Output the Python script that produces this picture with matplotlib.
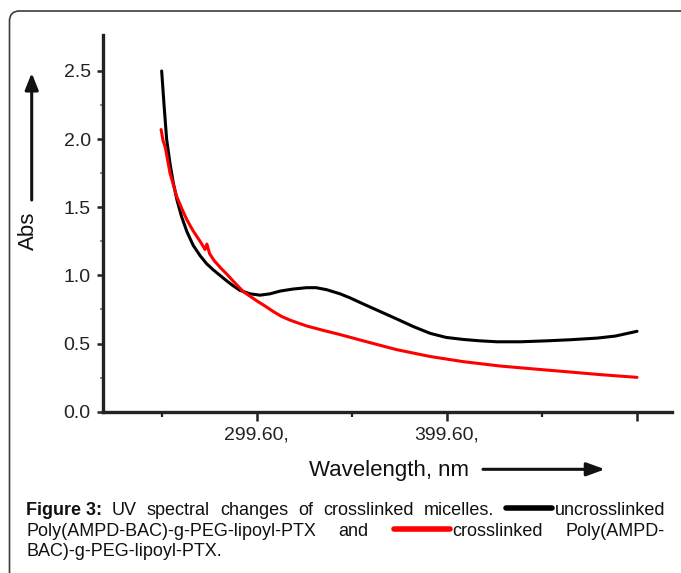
import numpy as np
import matplotlib
matplotlib.use("Agg")
import matplotlib.pyplot as plt
from matplotlib.lines import Line2D
from matplotlib.patches import FancyBboxPatch, FancyArrowPatch
from matplotlib.transforms import IdentityTransform

plt.rcParams['font.family'] = ['Liberation Sans', 'DejaVu Sans']

# spectra (wavelength nm, absorbance)
wl_uncross = [249.6, 250.8, 252.2, 254.0, 255.7, 257.7, 260.1, 262.9, 266.2, 269.8,
              273.3, 276.8, 280.3, 283.8, 287.1, 290.8, 296.1, 301.3, 306.6, 311.9,
              318.7, 325.9, 330.8, 336.4, 343.4, 348.7, 355.7, 364.5, 373.3, 381.9,
              390.8, 399.2, 408.3, 417.1, 425.9, 438.2, 452.2, 464.5, 478.6, 488.2, 499.6]
abs_uncross = [2.50, 2.26, 2.00, 1.82, 1.68, 1.55, 1.43, 1.32, 1.22, 1.145,
               1.085, 1.04, 1.00, 0.96, 0.925, 0.89, 0.865, 0.855, 0.865, 0.885,
               0.90, 0.91, 0.91, 0.895, 0.865, 0.835, 0.79, 0.735, 0.68, 0.625,
               0.575, 0.545, 0.530, 0.520, 0.513, 0.513, 0.520, 0.528, 0.540, 0.555, 0.59]

wl_cross = [249.3, 250.3, 251.5, 254.0, 257.5, 260.5, 262.8, 266.0, 269.8, 271.6,
            272.4, 273.4, 274.8, 277.1, 280.3, 283.8, 287.1, 292.6, 300.0, 304.0,
            308.3, 312.5, 317.1, 321.5, 325.9, 334.5, 343.4, 355.6, 364.5, 373.3,
            390.8, 408.3, 427.7, 443.4, 464.5, 480.3, 499.6]
abs_cross = [2.07, 1.99, 1.94, 1.75, 1.58, 1.48, 1.41, 1.33, 1.25, 1.21,
             1.19, 1.23, 1.16, 1.11, 1.06, 1.01, 0.96, 0.88, 0.81, 0.775,
             0.735, 0.70, 0.672, 0.65, 0.629, 0.597, 0.566, 0.520, 0.487, 0.455,
             0.405, 0.367, 0.335, 0.316, 0.291, 0.272, 0.252]

xmajor = [299.6, 399.6, 499.6]
xmajor_labels = ['299.60,', '399.60,', '']
xminor = [249.6, 349.6, 449.6]
ymajor = [0.0, 0.5, 1.0, 1.5, 2.0, 2.5]
yminor = [0.25, 0.75, 1.25, 1.75, 2.25]

W, H = 681, 573
fig = plt.figure(figsize=(W / 100, H / 100), dpi=100)
px = IdentityTransform()

# frame around figure (only left/top visible)
fig.add_artist(FancyBboxPatch((9.5, -60), 720, H - 11 + 60, boxstyle='round,pad=0,rounding_size=10',
                              transform=px, facecolor='none', edgecolor='#3c3c3c', lw=1.2))

ax = fig.add_axes([103.3 / W, (H - 411.7) / H, (672 - 103.3) / W, (411.7 - 35) / H])
ax.patch.set_alpha(0)
ax.plot(wl_uncross, abs_uncross, color='black', lw=2.2, solid_capstyle='round')
ax.plot(wl_cross, abs_cross, color='#ff0000', lw=2.2, solid_capstyle='round')
ax.set_xlim(218.9, 518)
ax.set_ylim(0, 2.764)

for s in ['top', 'right']:
    ax.spines[s].set_visible(False)
for s in ['left', 'bottom']:
    ax.spines[s].set_linewidth(2.4)
    ax.spines[s].set_color('#222222')

ax.set_xticks(xmajor)
ax.set_xticklabels(xmajor_labels)
ax.set_xticks(xminor, minor=True)
ax.set_yticks(ymajor)
ax.set_yticklabels(['%.1f' % v for v in ymajor])
ax.set_yticks(yminor, minor=True)
ax.tick_params(axis='x', which='major', length=6.5, width=1.8, pad=4, labelsize=14, colors='#222222')
ax.tick_params(axis='x', which='minor', length=3.5, width=1.6, colors='#222222')
ax.tick_params(axis='y', which='major', length=4, width=1.8, pad=5, labelsize=14, colors='#222222')
ax.tick_params(axis='y', which='minor', length=2, width=1.2, colors='#777777')

# axis titles with arrows
fig.text(28.5 / W, (H - 231) / H, 'Abs', rotation=90, ha='center', va='center', fontsize=16, color='#111111')
fig.add_artist(FancyArrowPatch((31.7, H - 200), (31.7, H - 73), transform=px,
                               arrowstyle='-|>,head_length=1.0,head_width=0.4', mutation_scale=10,
                               lw=2.2, color='#111111', shrinkA=0, shrinkB=0))
fig.text(389 / W, (H - 476) / H, 'Wavelength, nm', ha='center', va='baseline', fontsize=16, color='#111111')
fig.add_artist(FancyArrowPatch((483, H - 469.3), (605, H - 469.3), transform=px,
                               arrowstyle='-|>,head_length=1.1,head_width=0.4', mutation_scale=10,
                               lw=2.2, color='#111111', shrinkA=0, shrinkB=0))

# caption, justified
cap_fs = 13
renderer = fig.canvas.get_renderer()


def line_units(units, x0, x1, base, justify=True):
    # units: (bar colour or None, bar length, text, weight)
    made = []
    total = 0
    for color, blen, txt, weight in units:
        t = fig.text(0, H - base, txt, transform=px, fontsize=cap_fs, weight=weight,
                     va='baseline', ha='left', color='#111111')
        w = t.get_window_extent(renderer=renderer).width
        full = w + (blen + 3 if color else 0)
        made.append((color, blen, t, full))
        total += full
    gap = (x1 - x0 - total) / (len(units) - 1) if justify else 4.5
    x = x0
    for color, blen, t, full in made:
        if color:
            fig.add_artist(Line2D([x + 2, x + blen], [H - base + 7, H - base + 7], transform=px,
                                  color=color, lw=4, solid_capstyle='round'))
            t.set_x(x + blen + 3)
        else:
            t.set_x(x)
        x += full + gap


line_units([(None, 0, 'Figure 3:', 'bold'), (None, 0, 'UV', 'normal'), (None, 0, 'spectral', 'normal'),
            (None, 0, 'changes', 'normal'), (None, 0, 'of', 'normal'), (None, 0, 'crosslinked', 'normal'),
            (None, 0, 'micelles.', 'normal'), ('black', 48, 'uncrosslinked', 'normal')],
           26, 665, 515)
line_units([(None, 0, 'Poly(AMPD-BAC)-g-PEG-lipoyl-PTX', 'normal'), (None, 0, 'and', 'normal'),
            ('#ff0000', 58, 'crosslinked', 'normal'), (None, 0, 'Poly(AMPD-', 'normal')],
           26, 665, 535.5)
line_units([(None, 0, 'BAC)-g-PEG-lipoyl-PTX.', 'normal')], 26, 665, 556, justify=False)

fig.savefig('out.png', dpi=100)
